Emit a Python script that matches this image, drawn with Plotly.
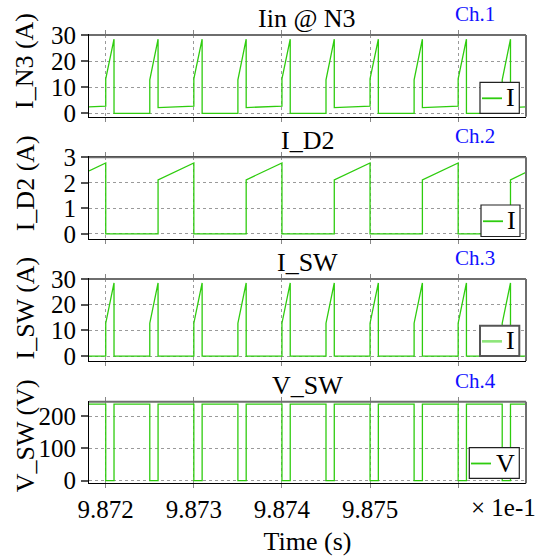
import plotly.graph_objects as go

# ---- data ----
# shared breakpoint times in seconds (axis shows value x10, "x 1e-1")
time_s = [
    0.9871810,
    0.9872000, 0.9872000, 0.9872094, 0.9872094,
    0.9872500, 0.9872500, 0.9872594, 0.9872594,
    0.9873000, 0.9873000, 0.9873094, 0.9873094,
    0.9873500, 0.9873500, 0.9873594, 0.9873594,
    0.9874000, 0.9874000, 0.9874094, 0.9874094,
    0.9874500, 0.9874500, 0.9874594, 0.9874594,
    0.9875000, 0.9875000, 0.9875094, 0.9875094,
    0.9875500, 0.9875500, 0.9875594, 0.9875594,
    0.9876000, 0.9876000, 0.9876094, 0.9876094,
    0.9876500, 0.9876500, 0.9876594, 0.9876594,
    0.9876770,
]
i_n3 = [
    2.5,
    2.75, 13.2, 28.4, 0.0,
    0.0, 12.8, 28.4, 2.2,
    2.75, 13.2, 28.4, 0.0,
    0.0, 12.8, 28.4, 2.2,
    2.75, 13.2, 28.4, 0.0,
    0.0, 12.8, 28.4, 2.2,
    2.75, 13.2, 28.4, 0.0,
    0.0, 12.8, 28.4, 2.2,
    2.75, 13.2, 28.4, 0.0,
    0.0, 12.8, 28.4, 2.2,
    2.45,
]
i_d2 = [
    2.47,
    2.78, 0.0, 0.0, 0.0,
    0.0, 0.0, 0.0, 2.12,
    2.78, 0.0, 0.0, 0.0,
    0.0, 0.0, 0.0, 2.12,
    2.78, 0.0, 0.0, 0.0,
    0.0, 0.0, 0.0, 2.12,
    2.78, 0.0, 0.0, 0.0,
    0.0, 0.0, 0.0, 2.12,
    2.78, 0.0, 0.0, 0.0,
    0.0, 0.0, 0.0, 2.12,
    2.41,
]
i_sw = [
    0.0,
    0.0, 12.8, 28.5, 0.0,
    0.0, 12.8, 28.5, 0.0,
    0.0, 12.8, 28.5, 0.0,
    0.0, 12.8, 28.5, 0.0,
    0.0, 12.8, 28.5, 0.0,
    0.0, 12.8, 28.5, 0.0,
    0.0, 12.8, 28.5, 0.0,
    0.0, 12.8, 28.5, 0.0,
    0.0, 12.8, 28.5, 0.0,
    0.0, 12.8, 28.5, 0.0,
    0.0,
]
v_sw = [
    237.5,
    237.5, 0.0, 0.0, 237.5,
    237.5, 0.0, 0.0, 237.5,
    237.5, 0.0, 0.0, 237.5,
    237.5, 0.0, 0.0, 237.5,
    237.5, 0.0, 0.0, 237.5,
    237.5, 0.0, 0.0, 237.5,
    237.5, 0.0, 0.0, 237.5,
    237.5, 0.0, 0.0, 237.5,
    237.5, 0.0, 0.0, 237.5,
    237.5, 0.0, 0.0, 237.5,
    237.5,
]

x_tickvals = [0.9872, 0.9873, 0.9874, 0.9875, 0.9876]
x_ticktext = ["9.872", "9.873", "9.874", "9.875", ""]

panels = [
    dict(title="Iin @ N3", ch="Ch.1", ylabel="I_N3 (A)", y=i_n3, name="I",
         yrange=[-1.3, 30.01], ytick=[0, 10, 20, 30]),
    dict(title="I_D2", ch="Ch.2", ylabel="I_D2 (A)", y=i_d2, name="I",
         yrange=[-0.21, 3.001], ytick=[0, 1, 2, 3]),
    dict(title="I_SW", ch="Ch.3", ylabel="I_SW (A)", y=i_sw, name="I",
         yrange=[-1.9, 30.01], ytick=[0, 10, 20, 30]),
    dict(title="V_SW", ch="Ch.4", ylabel="V_SW (V)", y=v_sw, name="V",
         yrange=[-8, 245], ytick=[0, 100, 200]),
]

# ---- layout geometry (pixels) ----
W, H = 542, 556
FONT = "Liberation Serif"
GREEN = "#2ecc0e"
x_dom = [89 / W, 526 / W]
panel_px = [(35, 116.7), (157.3, 239.3), (279, 361), (401.7, 483.3)]
# legend boxes: x0, x1, y0(top), y1(bottom), line x0, line x1, border colour, border width, line colour
legend_px = [
    (480, 519.3, 82.3, 113.3, 482, 502, "#222", 1.2, GREEN),
    (481, 520, 205, 236.5, 483, 503, "#222", 1.2, GREEN),
    (480, 519.3, 325.7, 356, 482, 502, "#555", 2.0, "#8ee67a"),
    (469.3, 519.3, 447.7, 478.3, 471, 491, "#222", 1.2, GREEN),
]


def F(size, color="black"):
    return dict(family=FONT, size=size, color=color)


fig = go.Figure()
layout = dict(
    width=W, height=H, margin=dict(l=0, r=0, t=0, b=0),
    paper_bgcolor="white", plot_bgcolor="white",
    font=F(25), showlegend=False,
    shapes=[], annotations=[],
)

for i, p in enumerate(panels):
    n = "" if i == 0 else str(i + 1)
    top, bot = panel_px[i]
    ydom = [1 - bot / H, 1 - top / H]
    fig.add_trace(go.Scatter(
        x=time_s, y=p["y"], mode="lines", name=p["name"],
        line=dict(color=GREEN, width=1.3),
        xaxis="x" + n, yaxis="y" + n,
    ))
    layout["xaxis" + n] = dict(
        domain=x_dom, anchor="y" + n, range=[time_s[0], time_s[-1]],
        tickvals=x_tickvals, ticktext=x_ticktext, automargin=False,
        showticklabels=(i == 3), ticks="outside", ticklen=4,
        tickcolor="#888", showgrid=True, gridcolor="#9a9a9a",
        griddash="dot", gridwidth=1, zeroline=False, mirror="ticks",
        showline=True, linecolor="black", linewidth=1,
        tickfont=F(25),
        **({"matches": "x"} if i else {}),
    )
    if i == 3:
        layout["xaxis" + n]["title"] = dict(text="Time (s)", font=F(26), standoff=12)
    layout["yaxis" + n] = dict(
        domain=ydom, anchor="x" + n, range=p["yrange"], tickvals=p["ytick"],
        ticks="outside", ticklen=7, tickcolor="#555", tickwidth=1.5,
        showgrid=True, gridcolor="#9a9a9a", griddash="dot", gridwidth=1,
        zeroline=False, showline=True, linecolor="black", linewidth=1,
        tickfont=F(25), automargin=False,
    )
    # y-axis label (rotated, end of text aligned above the panel top)
    layout["annotations"].append(dict(
        text=p["ylabel"], xref="paper", yref="paper", x=25 / W,
        y=1 - (top - 24) / H, xanchor="center", yanchor="top",
        textangle=-90, showarrow=False, font=F(26),
    ))
    # gray top / right frame
    for (x0, y0, x1, y1) in [(0, 1, 1, 1), (1, 0, 1, 1)]:
        layout["shapes"].append(dict(
            type="line", xref="x" + n + " domain", yref="y" + n + " domain",
            x0=x0, y0=y0, x1=x1, y1=y1, line=dict(color="#6e6e6e", width=2),
            layer="above",
        ))
    layout["annotations"].append(dict(
        text=p["title"], xref="paper", yref="paper",
        x=(x_dom[0] + x_dom[1]) / 2, y=1 - top / H, xanchor="center",
        yanchor="bottom", showarrow=False, font=F(26),
    ))
    layout["annotations"].append(dict(
        text=p["ch"], xref="paper", yref="paper",
        x=475 / W, y=1 - (top - 21) / H, xanchor="center",
        yanchor="middle", showarrow=False, font=F(21, "#1010ff"),
    ))
    # legend box (drawn as shapes + text)
    bx0, bx1, by0, by1, lx0, lx1, bc, bw, lc = legend_px[i]
    ymid = (by0 + by1) / 2
    layout["shapes"].append(dict(
        type="rect", xref="paper", yref="paper",
        x0=bx0 / W, x1=bx1 / W, y0=1 - by1 / H, y1=1 - by0 / H,
        fillcolor="white", line=dict(color=bc, width=bw), layer="above",
    ))
    layout["shapes"].append(dict(
        type="line", xref="paper", yref="paper",
        x0=lx0 / W, x1=lx1 / W, y0=1 - (ymid + 0.5) / H, y1=1 - (ymid + 0.5) / H,
        line=dict(color=lc, width=1.8 if i != 2 else 2.6), layer="above",
    ))
    layout["annotations"].append(dict(
        text=p["name"], xref="paper", yref="paper",
        x=(bx1 - 2) / W, y=1 - ymid / H, xanchor="right", yanchor="middle",
        showarrow=False, font=F(26),
    ))

layout["annotations"].append(dict(
    text="× 1e-1", xref="paper", yref="paper", x=538 / W,
    y=1 - 507 / H, xanchor="right", yanchor="middle", showarrow=False,
    font=F(25),
))

fig.update_layout(**layout)
fig.write_html("out.html")
